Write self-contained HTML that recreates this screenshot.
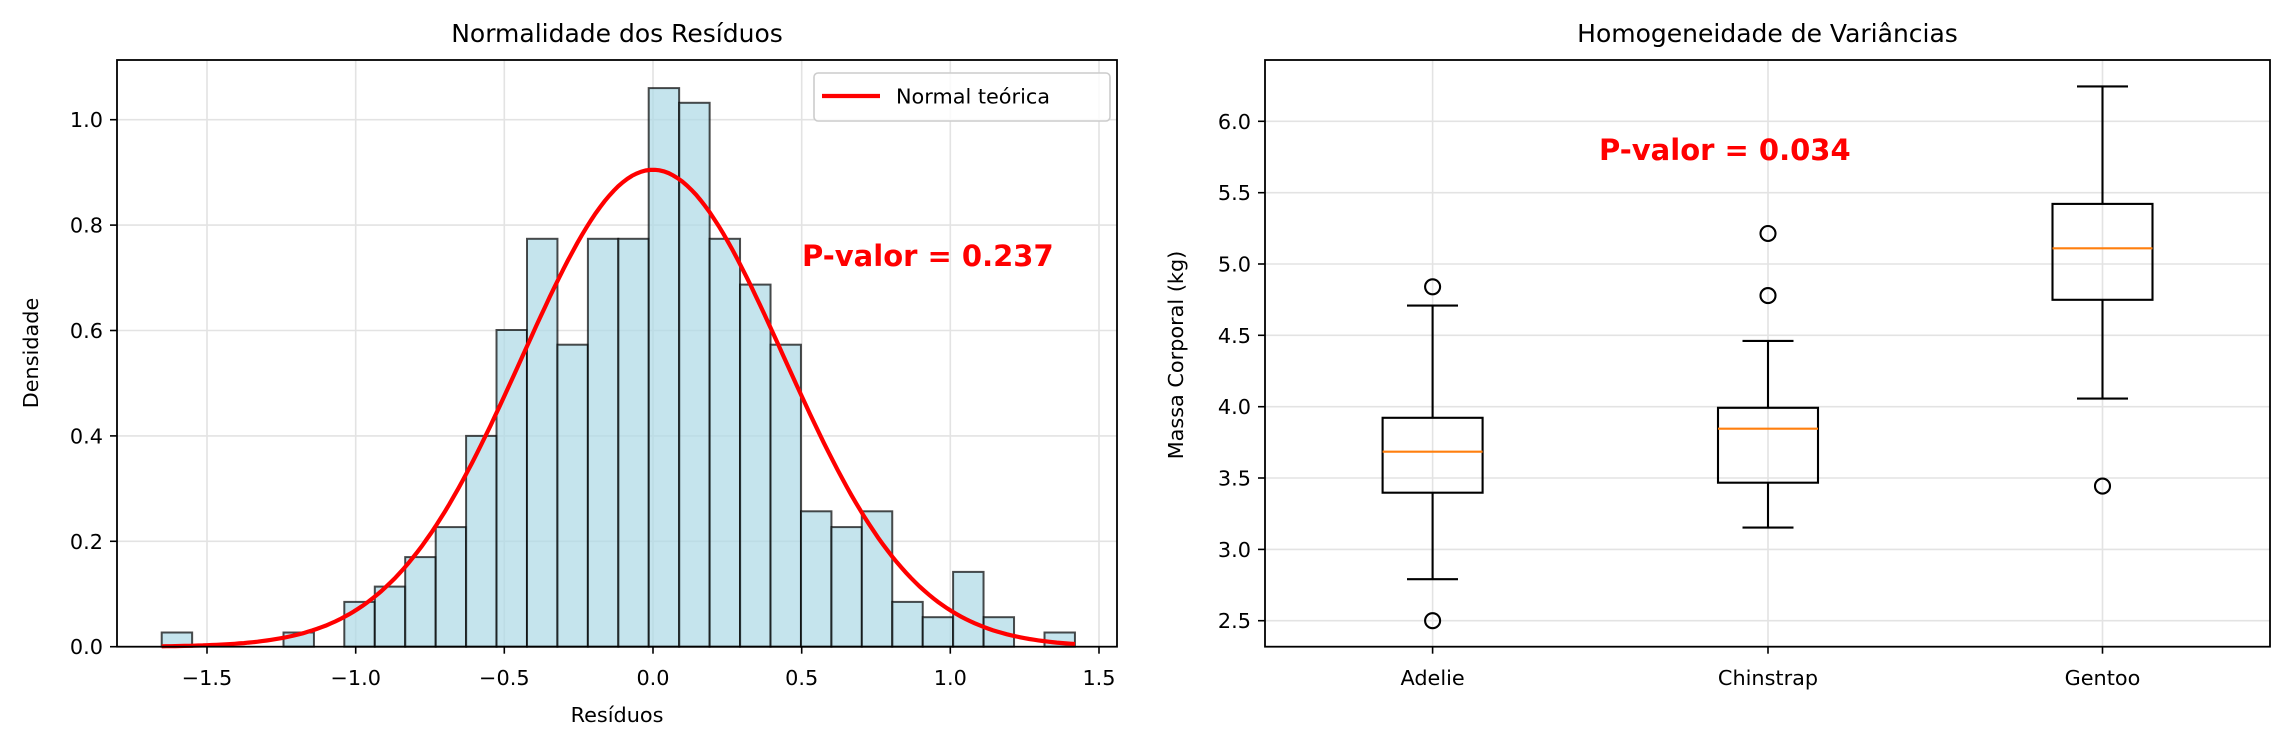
<!DOCTYPE html>
<html><head><meta charset="utf-8"><style>
html,body{margin:0;padding:0;background:#fff}
svg{display:block}
text{font-family:"DejaVu Sans","Liberation Sans",sans-serif;fill:#000}
</style></head><body>
<svg id="s" width="2284" height="748" viewBox="0 0 2284 748" xmlns="http://www.w3.org/2000/svg">
<rect width="2284" height="748" fill="#fff"/>
<!-- LEFT grid -->
<g stroke="#e3e3e3" stroke-width="1.6">
<line x1="207" y1="60" x2="207" y2="646.7"/><line x1="355.7" y1="60" x2="355.7" y2="646.7"/><line x1="504.3" y1="60" x2="504.3" y2="646.7"/><line x1="653" y1="60" x2="653" y2="646.7"/><line x1="801.7" y1="60" x2="801.7" y2="646.7"/><line x1="950.3" y1="60" x2="950.3" y2="646.7"/><line x1="1099" y1="60" x2="1099" y2="646.7"/>
<line x1="117" y1="541.3" x2="1117" y2="541.3"/><line x1="117" y1="435.9" x2="1117" y2="435.9"/><line x1="117" y1="330.5" x2="1117" y2="330.5"/><line x1="117" y1="225.1" x2="1117" y2="225.1"/><line x1="117" y1="119.7" x2="1117" y2="119.7"/>
</g>
<!-- bars -->
<g fill="#add8e6" fill-opacity="0.7" stroke="#000" stroke-opacity="0.7" stroke-width="2">
<rect x="161.7" y="632.5" width="30.44" height="14.2"/>
<rect x="283.5" y="632.5" width="30.44" height="14.2"/>
<rect x="344.3" y="601.9" width="30.44" height="44.8"/>
<rect x="374.8" y="586.6" width="30.44" height="60.1"/>
<rect x="405.2" y="557.1" width="30.44" height="89.6"/>
<rect x="435.7" y="527.1" width="30.44" height="119.6"/>
<rect x="466.1" y="435.9" width="30.44" height="210.8"/>
<rect x="496.5" y="330" width="30.44" height="316.7"/>
<rect x="527" y="238.8" width="30.44" height="407.9"/>
<rect x="557.4" y="344.7" width="30.44" height="302"/>
<rect x="587.9" y="238.8" width="30.44" height="407.9"/>
<rect x="618.3" y="238.8" width="30.44" height="407.9"/>
<rect x="648.7" y="88.1" width="30.44" height="558.6"/>
<rect x="679.2" y="102.8" width="30.44" height="543.9"/>
<rect x="709.6" y="238.8" width="30.44" height="407.9"/>
<rect x="740.1" y="284.6" width="30.44" height="362.1"/>
<rect x="770.5" y="344.7" width="30.44" height="302"/>
<rect x="801" y="511.3" width="30.44" height="135.4"/>
<rect x="831.4" y="527.1" width="30.44" height="119.6"/>
<rect x="861.8" y="511.3" width="30.44" height="135.4"/>
<rect x="892.3" y="601.9" width="30.44" height="44.8"/>
<rect x="922.7" y="617.2" width="30.44" height="29.5"/>
<rect x="953.1" y="571.9" width="30.44" height="74.8"/>
<rect x="983.6" y="617.2" width="30.44" height="29.5"/>
<rect x="1044.5" y="632.5" width="30.44" height="14.2"/>
</g>
<path id="curve" fill="none" stroke="#ff0000" stroke-width="4.2" d=""/>
<!-- left axes frame & ticks -->
<rect x="117" y="60" width="1000" height="586.7" fill="none" stroke="#000" stroke-width="1.8"/>
<g stroke="#000" stroke-width="1.6">
<line x1="207" y1="646.7" x2="207" y2="653.7"/><line x1="355.7" y1="646.7" x2="355.7" y2="653.7"/><line x1="504.3" y1="646.7" x2="504.3" y2="653.7"/><line x1="653" y1="646.7" x2="653" y2="653.7"/><line x1="801.7" y1="646.7" x2="801.7" y2="653.7"/><line x1="950.3" y1="646.7" x2="950.3" y2="653.7"/><line x1="1099" y1="646.7" x2="1099" y2="653.7"/>
<line x1="110" y1="646.7" x2="117" y2="646.7"/><line x1="110" y1="541.3" x2="117" y2="541.3"/><line x1="110" y1="435.9" x2="117" y2="435.9"/><line x1="110" y1="330.5" x2="117" y2="330.5"/><line x1="110" y1="225.1" x2="117" y2="225.1"/><line x1="110" y1="119.7" x2="117" y2="119.7"/>
</g>
<g font-size="20.8" text-anchor="middle">
<text x="207" y="685">−1.5</text><text x="355.7" y="685">−1.0</text><text x="504.3" y="685">−0.5</text><text x="653" y="685">0.0</text><text x="801.7" y="685">0.5</text><text x="950.3" y="685">1.0</text><text x="1099" y="685">1.5</text>
</g>
<g font-size="20.8" text-anchor="end">
<text x="103" y="654.2">0.0</text><text x="103" y="548.8">0.2</text><text x="103" y="443.4">0.4</text><text x="103" y="338">0.6</text><text x="103" y="232.6">0.8</text><text x="103" y="127.2">1.0</text>
</g>
<text x="617" y="42" font-size="25" text-anchor="middle">Normalidade dos Resíduos</text>
<text x="617" y="722" font-size="20.8" text-anchor="middle">Resíduos</text>
<text transform="translate(38,353) rotate(-90)" font-size="20.8" text-anchor="middle">Densidade</text>
<text x="802" y="266" font-size="29" font-weight="bold" style="fill:#ff0000">P-valor = 0.237</text>
<!-- legend -->
<rect x="814" y="73" width="296" height="48" rx="4" fill="#fff" fill-opacity="0.8" stroke="#cccccc" stroke-width="1.6"/>
<line x1="822" y1="96" x2="880" y2="96" stroke="#ff0000" stroke-width="4.2"/>
<text x="896" y="103.5" font-size="20.8">Normal teórica</text>

<!-- RIGHT grid -->
<g stroke="#e3e3e3" stroke-width="1.6">
<line x1="1432.6" y1="60" x2="1432.6" y2="646.7"/><line x1="1768" y1="60" x2="1768" y2="646.7"/><line x1="2102.5" y1="60" x2="2102.5" y2="646.7"/>
<line x1="1265" y1="620.7" x2="2270" y2="620.7"/><line x1="1265" y1="549.4" x2="2270" y2="549.4"/><line x1="1265" y1="478" x2="2270" y2="478"/><line x1="1265" y1="406.7" x2="2270" y2="406.7"/><line x1="1265" y1="335.3" x2="2270" y2="335.3"/><line x1="1265" y1="264" x2="2270" y2="264"/><line x1="1265" y1="192.7" x2="2270" y2="192.7"/><line x1="1265" y1="121.3" x2="2270" y2="121.3"/>
</g>
<g stroke="#000" stroke-width="2.1" fill="none">
<!-- Adelie -->
<line x1="1432.6" y1="305.6" x2="1432.6" y2="417.8"/><line x1="1432.6" y1="492.7" x2="1432.6" y2="579.2"/>
<line x1="1407" y1="305.6" x2="1458" y2="305.6"/><line x1="1407" y1="579.2" x2="1458" y2="579.2"/>
<rect x="1382.6" y="417.8" width="100" height="74.9"/>
<circle cx="1432.6" cy="286.8" r="7.5"/><circle cx="1432.6" cy="620.7" r="7.5"/>
<!-- Chinstrap -->
<line x1="1768" y1="340.9" x2="1768" y2="407.8"/><line x1="1768" y1="482.7" x2="1768" y2="527.6"/>
<line x1="1742.5" y1="340.9" x2="1793.5" y2="340.9"/><line x1="1742.5" y1="527.6" x2="1793.5" y2="527.6"/>
<rect x="1718" y="407.8" width="100" height="74.9"/>
<circle cx="1768" cy="233.5" r="7.5"/><circle cx="1768" cy="295.6" r="7.5"/>
<!-- Gentoo -->
<line x1="2102.5" y1="86.4" x2="2102.5" y2="203.9"/><line x1="2102.5" y1="299.8" x2="2102.5" y2="398.6"/>
<line x1="2077" y1="86.4" x2="2128" y2="86.4"/><line x1="2077" y1="398.6" x2="2128" y2="398.6"/>
<rect x="2052.5" y="203.9" width="100" height="95.9"/>
<circle cx="2102.5" cy="486.1" r="7.5"/>
</g>
<g stroke="#ff7f0e" stroke-width="2.1">
<line x1="1382.6" y1="451.7" x2="1482.6" y2="451.7"/>
<line x1="1718" y1="428.7" x2="1818" y2="428.7"/>
<line x1="2052.5" y1="248.3" x2="2152.5" y2="248.3"/>
</g>
<rect x="1265" y="60" width="1005" height="586.7" fill="none" stroke="#000" stroke-width="1.8"/>
<g stroke="#000" stroke-width="1.6">
<line x1="1432.6" y1="646.7" x2="1432.6" y2="653.7"/><line x1="1768" y1="646.7" x2="1768" y2="653.7"/><line x1="2102.5" y1="646.7" x2="2102.5" y2="653.7"/>
<line x1="1258" y1="620.7" x2="1265" y2="620.7"/><line x1="1258" y1="549.4" x2="1265" y2="549.4"/><line x1="1258" y1="478" x2="1265" y2="478"/><line x1="1258" y1="406.7" x2="1265" y2="406.7"/><line x1="1258" y1="335.3" x2="1265" y2="335.3"/><line x1="1258" y1="264" x2="1265" y2="264"/><line x1="1258" y1="192.7" x2="1265" y2="192.7"/><line x1="1258" y1="121.3" x2="1265" y2="121.3"/>
</g>
<g font-size="20.8" text-anchor="end">
<text x="1251" y="628.2">2.5</text><text x="1251" y="556.9">3.0</text><text x="1251" y="485.5">3.5</text><text x="1251" y="414.2">4.0</text><text x="1251" y="342.8">4.5</text><text x="1251" y="271.5">5.0</text><text x="1251" y="200.2">5.5</text><text x="1251" y="128.8">6.0</text>
</g>
<g font-size="20.8" text-anchor="middle">
<text x="1432.6" y="685">Adelie</text><text x="1768" y="685">Chinstrap</text><text x="2102.5" y="685">Gentoo</text>
</g>
<text x="1767.5" y="42" font-size="25" text-anchor="middle">Homogeneidade de Variâncias</text>
<text transform="translate(1183,355) rotate(-90)" font-size="20.8" text-anchor="middle">Massa Corporal (kg)</text>
<text x="1599" y="160" font-size="29" font-weight="bold" style="fill:#ff0000">P-valor = 0.034</text>
</svg>
<script>
(function(){var d="";for(var i=0;i<=200;i++){var x=-1.6526+3.072*i/200;var f=0.905*Math.exp(-x*x/(2*0.1943));var px=653+x*297.3,py=646.7-f*527;d+=(i?"L":"M")+px.toFixed(1)+" "+py.toFixed(1);}document.getElementById("curve").setAttribute("d",d);})();
</script>
</body></html>
